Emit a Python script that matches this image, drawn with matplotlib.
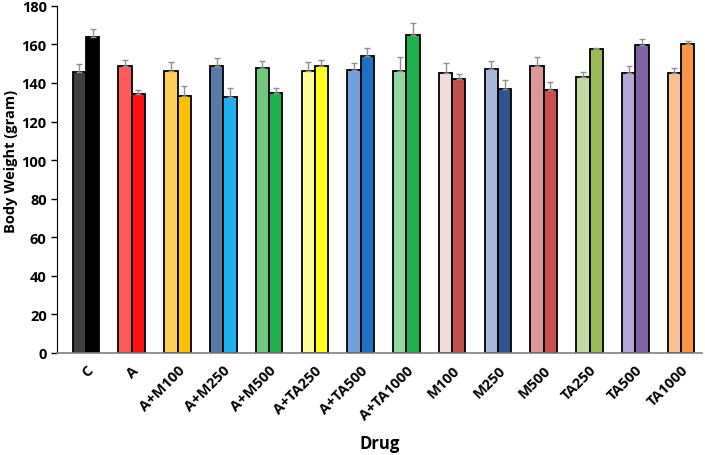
import numpy as np
import matplotlib
matplotlib.use('Agg')
import matplotlib.pyplot as plt

plt.rcParams['font.family'] = ['Open Sans', 'DejaVu Sans']

# data
drugs = ['C', 'A', 'A+M100', 'A+M250', 'A+M500', 'A+TA250', 'A+TA500',
         'A+TA1000', 'M100', 'M250', 'M500', 'TA250', 'TA500', 'TA1000']
before = [145.7, 148.9, 146.3, 149.0, 147.6, 146.3, 146.8,
          146.3, 145.4, 147.1, 149.0, 143.3, 145.1, 145.1]
before_err = [4.0, 3.2, 4.6, 3.7, 3.9, 4.6, 3.5,
              7.0, 4.9, 4.4, 4.3, 2.4, 3.8, 2.5]
after = [163.6, 134.5, 133.3, 132.9, 134.9, 149.0, 153.8,
         164.7, 141.9, 136.7, 136.4, 157.8, 159.9, 160.2]
after_err = [4.2, 1.6, 5.0, 4.4, 2.4, 2.8, 4.5,
             6.2, 2.6, 4.9, 4.0, 0.5, 3.0, 1.4]

colors1 = ['#404040', '#ff5a5a', '#ffd055', '#5a78a8', '#70c880', '#ffff99', '#6fa0dc',
           '#90d8a0', '#f2dcdb', '#a8b8d8', '#dc9898', '#c4d9a0', '#b4a7d6', '#fac090']
colors2 = ['#000000', '#ff1010', '#ffc000', '#20b0f0', '#20b050', '#ffff20', '#1f70c0',
           '#20b050', '#c0504d', '#2f5590', '#c85050', '#9bbb59', '#8064a2', '#f79646']

x = np.arange(len(drugs))
w = 0.29

fig = plt.figure(figsize=(7.05, 4.56), dpi=100)
ax = fig.add_axes([0.081, 0.224, 0.915, 0.761])

ax.bar(x - w/2, before, w, color=colors1, edgecolor='black', linewidth=1.3,
       yerr=[np.zeros(len(x)), before_err], ecolor='#909090',
       error_kw=dict(capsize=2.5, elinewidth=1, capthick=1), zorder=2)
ax.bar(x + w/2, after, w, color=colors2, edgecolor='black', linewidth=1.3,
       yerr=[np.zeros(len(x)), after_err], ecolor='#909090',
       error_kw=dict(capsize=2.5, elinewidth=1, capthick=1), zorder=2)

ax.set_xlim(-0.63, 13.46)
ax.set_ylim(0, 180)
ax.set_yticks(range(0, 181, 20))
ax.set_xticks(x)
ax.set_xticklabels(drugs, rotation=45, ha='right', rotation_mode='anchor',
                   fontsize=10.5, fontweight='bold')
for t in ax.get_yticklabels():
    t.set_fontweight('bold')
    t.set_fontsize(10.5)
ax.tick_params(axis='x', length=0, pad=7)
ax.tick_params(axis='y', length=4, width=1, direction='out')

ax.spines['top'].set_visible(False)
ax.spines['right'].set_visible(False)
ax.spines['left'].set_color('black')
ax.spines['bottom'].set_color('#808080')
ax.spines['bottom'].set_linewidth(1.2)

ax.set_ylabel('Body Weight (gram)', fontsize=10.5, fontweight='bold')
ax.yaxis.set_label_coords(-0.061, 0.555)
ax.set_xlabel('Drug', fontsize=12, fontweight='bold', labelpad=9)

plt.savefig('out.png', dpi=100)
